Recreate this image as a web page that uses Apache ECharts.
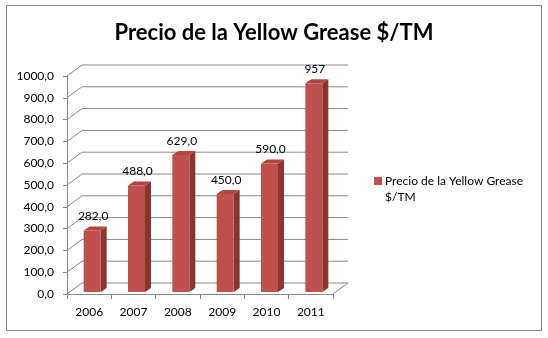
<!DOCTYPE html>
<html><head><meta charset="utf-8">
<script src="https://cdn.jsdelivr.net/npm/echarts@6/dist/echarts.min.js"></script>
<style>html,body{margin:0;padding:0;background:#fff}#c{width:548px;height:338px}</style>
</head><body><div id="c"></div>
<script>
var categories = ['2006','2007','2008','2009','2010','2011'];
var prices = [282, 488, 629, 450, 590, 957];
var priceLabels = ['282,0','488,0','629,0','450,0','590,0','957'];
var yTicks = [0,100,200,300,400,500,600,700,800,900,1000];
var yTickLabels = ['0,0','100,0','200,0','300,0','400,0','500,0','600,0','700,0','800,0','900,0','1000,0'];
var titleText = 'Precio de la Yellow Grease $/TM';
var legendText = 'Precio de la Yellow Grease\n$/TM';

var FONT = 'Lato';
var DX = 15, DY = -11;
var gridColor = '#888888';
var chart = echarts.init(document.getElementById('c'));
chart.setOption({
  animation: false,
  title: { text: titleText, left: 'center', top: 17,
    textStyle: { fontFamily: FONT, fontSize: 22, fontWeight: 'bold', color: '#000' } },
  grid: { left: 67, right: 215, top: 76, bottom: 44 },
  xAxis: { type: 'category', data: categories,
    axisLine: { lineStyle: { color: gridColor } },
    axisTick: { show: true, length: 5, lineStyle: { color: gridColor } },
    axisLabel: { fontFamily: FONT, fontSize: 12, color: '#000', margin: 12 },
    splitLine: { show: false } },
  yAxis: { type: 'value', min: 0, max: 1000, interval: 100,
    axisLine: { show: true, lineStyle: { color: gridColor } },
    axisTick: { show: true, length: 4, lineStyle: { color: gridColor } },
    axisLabel: { fontFamily: FONT, fontSize: 12, color: '#000', margin: 13,
      formatter: function (v) { return yTickLabels[yTicks.indexOf(v)]; } },
    splitLine: { show: false } },
  graphic: [
    { type: 'rect', shape: { x: 6.5, y: 5.5, width: 535, height: 325 },
      style: { fill: 'none', stroke: '#888', lineWidth: 1 }, z: -10 },
    { type: 'rect', shape: { x: 374, y: 177, width: 8, height: 8 }, style: { fill: '#C0504D' } },
    { type: 'text', x: 385, y: 173, style: { text: legendText, fontFamily: FONT, fontSize: 12, fill: '#000', lineHeight: 16 } }
  ],
  series: [
    { type: 'custom', silent: true, z: 1,
      data: yTicks.map(function (v) { return [0, v]; }),
      renderItem: function (params, api) {
        var cs = params.coordSys;
        var y = api.coord([0, api.value(1)])[1];
        var x0 = cs.x, x1 = cs.x + cs.width;
        var children = [{ type: 'polyline', shape: { points: [[x0, y], [x0 + DX, y + DY], [x1 + DX, y + DY]] },
          style: { stroke: gridColor, fill: 'none', lineWidth: 1 } }];
        if (api.value(1) === 0) {
          children.push({ type: 'line', shape: { x1: x1, y1: y, x2: x1 + DX, y2: y + DY },
            style: { stroke: gridColor, lineWidth: 1 } });
        }
        return { type: 'group', children: children };
      } },
    { type: 'custom', silent: true, z: 2, name: 'Precio',
      data: prices.map(function (v, i) { return [i, v]; }),
      renderItem: function (params, api) {
        var i = api.value(0), v = api.value(1);
        var p = api.coord([i, v]), b = api.coord([i, 0]);
        var cx = p[0] + 3, hw = 8.5, sx = 6, sy = -4;
        var yt = p[1] - 2, yb = b[1] - 2;
        return { type: 'group', children: [
          { type: 'polygon', shape: { points: [[cx + hw, yt], [cx + hw + sx, yt + sy], [cx + hw + sx, yb + sy], [cx + hw, yb]] },
            style: { fill: '#8A3532' } },
          { type: 'polygon', shape: { points: [[cx - hw, yt], [cx - hw + sx, yt + sy], [cx + hw + sx, yt + sy], [cx + hw, yt]] },
            style: { fill: '#B5433F' } },
          { type: 'rect', shape: { x: cx - hw, y: yt, width: 2 * hw, height: yb - yt },
            style: { fill: '#C0504D' } },
          { type: 'text', x: cx + 1, y: yt + sy - 4,
            style: { text: priceLabels[params.dataIndex], fontFamily: FONT, fontSize: 12, fill: '#000',
              align: 'center', verticalAlign: 'bottom' } }
        ] };
      } }
  ]
});
</script></body></html>
